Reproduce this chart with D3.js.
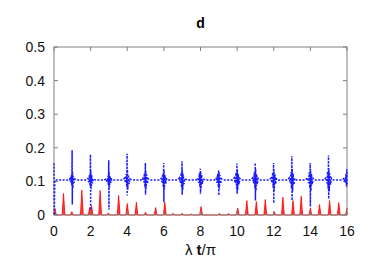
<!DOCTYPE html>
<html>
<head>
<meta charset="utf-8">
<script src="https://cdn.jsdelivr.net/npm/d3@7"></script>
<style>
  body { margin: 0; background: #fff; }
  svg { display: block; font-family: "Liberation Sans", Arial, sans-serif; }
</style>
</head>
<body>
<div id="chart"></div>
<script>
// blue series: start of the curve, then one oscillation burst per integer t
const blueStartT = [0, 0.015, 0.045];
const blueStartV = [0.154, 0.0, 0.104];
const burstCenters = [1, 2, 3, 4, 5, 6, 7, 8, 9, 10, 11, 12, 13, 14, 15, 16];
const burstOffsets = [-0.25, -0.15, -0.1, -0.06, -0.03, -0.01, 0, 0.01, 0.03, 0.06, 0.1, 0.15, 0.25];
const burstValues = [
  [0.104, 0.108, 0.098, 0.118, 0.088, 0.193, 0.031, 0.130, 0.080, 0.116, 0.096, 0.107, 0.104],
  [0.104, 0.109, 0.097, 0.120, 0.086, 0.180, 0.015, 0.132, 0.078, 0.118, 0.094, 0.108, 0.104],
  [0.104, 0.108, 0.099, 0.117, 0.089, 0.163, 0.016, 0.128, 0.082, 0.115, 0.096, 0.107, 0.104],
  [0.104, 0.110, 0.096, 0.122, 0.084, 0.182, 0.058, 0.135, 0.075, 0.120, 0.092, 0.108, 0.104],
  [0.104, 0.110, 0.097, 0.124, 0.082, 0.155, 0.060, 0.132, 0.078, 0.120, 0.093, 0.108, 0.104],
  [0.104, 0.109, 0.097, 0.122, 0.084, 0.155, 0.038, 0.134, 0.076, 0.119, 0.093, 0.108, 0.104],
  [0.104, 0.111, 0.096, 0.125, 0.082, 0.160, 0.060, 0.135, 0.075, 0.121, 0.092, 0.109, 0.104],
  [0.104, 0.110, 0.096, 0.124, 0.083, 0.138, 0.063, 0.130, 0.078, 0.120, 0.093, 0.108, 0.104],
  [0.104, 0.110, 0.096, 0.123, 0.083, 0.133, 0.058, 0.128, 0.078, 0.119, 0.093, 0.108, 0.104],
  [0.104, 0.111, 0.095, 0.126, 0.080, 0.153, 0.063, 0.136, 0.074, 0.122, 0.091, 0.109, 0.104],
  [0.104, 0.111, 0.095, 0.127, 0.080, 0.155, 0.043, 0.137, 0.072, 0.122, 0.091, 0.109, 0.104],
  [0.104, 0.110, 0.096, 0.126, 0.081, 0.155, 0.035, 0.136, 0.073, 0.121, 0.092, 0.108, 0.104],
  [0.104, 0.111, 0.095, 0.128, 0.079, 0.175, 0.043, 0.138, 0.070, 0.123, 0.090, 0.109, 0.104],
  [0.104, 0.111, 0.095, 0.127, 0.080, 0.155, 0.025, 0.137, 0.071, 0.122, 0.091, 0.109, 0.104],
  [0.104, 0.112, 0.094, 0.129, 0.078, 0.178, 0.048, 0.139, 0.070, 0.124, 0.090, 0.110, 0.104],
  [0.104, 0.110, 0.096, 0.122, 0.084, 0.136, 0.088]
];

// red series: narrow peaks (position, height)
const redPeakT = [0.05, 0.52, 0.97, 1.52, 1.95, 2.05, 2.52, 2.97, 3.53, 4.0, 4.5, 5.0, 5.55, 6.05, 6.5, 7.0, 7.5,
  8.03, 9.03, 9.53, 10.03, 10.53, 11.05, 11.54, 12.03, 12.5, 13.05, 13.5, 14.0, 14.5, 15.05, 15.55, 16.0];
const redPeakH = [0.02, 0.064, 0.01, 0.074, 0.022, 0.028, 0.073, 0.006, 0.058, 0.034, 0.038, 0.008, 0.022, 0.038, 0.005, 0.005, 0.003,
  0.025, 0.005, 0.005, 0.021, 0.043, 0.04, 0.046, 0.01, 0.053, 0.043, 0.056, 0.021, 0.031, 0.043, 0.037, 0.02];

const xTicks = [0, 2, 4, 6, 8, 10, 12, 14, 16];
const yTicks = [0, 0.1, 0.2, 0.3, 0.4, 0.5];

const W = 374, H = 262;
const margin = { top: 47, right: 27, bottom: 47, left: 54 };

const svg = d3.select('#chart').append('svg').attr('width', W).attr('height', H);

const x = d3.scaleLinear().domain([0, 16]).range([margin.left, W - margin.right]);
const y = d3.scaleLinear().domain([0, 0.5]).range([H - margin.bottom, margin.top]);

const frameColor = '#808080';

// red peaks: filled area, outline only on the top edge
const w = 0.075;
const redPts = [];
redPeakT.forEach((t, i) => {
  redPts.push([Math.max(0, t - w), 0], [t, redPeakH[i]], [Math.min(16, t + w), 0]);
});
svg.append('path')
  .datum(redPts)
  .attr('d', d3.area().x(d => x(d[0])).y0(y(0)).y1(d => y(d[1])))
  .attr('fill', '#ff3a3a');
svg.append('path')
  .datum(redPts)
  .attr('d', d3.line().x(d => x(d[0])).y(d => y(d[1])))
  .attr('fill', 'none').attr('stroke', '#ff0000').attr('stroke-width', 0.8);

// frame
svg.append('rect')
  .attr('x', x(0)).attr('y', y(0.5))
  .attr('width', x(16) - x(0)).attr('height', y(0) - y(0.5))
  .attr('fill', 'none').attr('stroke', frameColor).attr('stroke-width', 1);

// inward ticks on all four sides
const tl = 4;
xTicks.forEach(t => {
  svg.append('line').attr('x1', x(t)).attr('x2', x(t)).attr('y1', y(0)).attr('y2', y(0) - tl)
    .attr('stroke', frameColor);
  svg.append('line').attr('x1', x(t)).attr('x2', x(t)).attr('y1', y(0.5)).attr('y2', y(0.5) + tl)
    .attr('stroke', frameColor);
  svg.append('text').attr('x', x(t)).attr('y', y(0) + 21)
    .attr('text-anchor', 'middle').attr('font-size', 14).attr('fill', '#111').text(t);
});
yTicks.forEach(v => {
  svg.append('line').attr('x1', x(0)).attr('x2', x(0) + tl).attr('y1', y(v)).attr('y2', y(v))
    .attr('stroke', frameColor);
  svg.append('line').attr('x1', x(16)).attr('x2', x(16) - tl).attr('y1', y(v)).attr('y2', y(v))
    .attr('stroke', frameColor);
  svg.append('text').attr('x', x(0) - 9).attr('y', y(v) + 5)
    .attr('text-anchor', 'end').attr('font-size', 14).attr('fill', '#111').text(v);
});

// blue dotted curve
const bluePts = blueStartT.map((t, i) => [t, blueStartV[i]]);
burstCenters.forEach((c, i) => {
  burstValues[i].forEach((v, j) => {
    const t = c + burstOffsets[j];
    if (t <= 16) bluePts.push([t, v]);
  });
});
svg.append('path')
  .datum(bluePts)
  .attr('d', d3.line().x(d => x(d[0])).y(d => y(d[1])))
  .attr('fill', 'none').attr('stroke', '#1a1aff').attr('stroke-width', 1.5)
  .attr('stroke-dasharray', '2,1.5');

// title and axis label
svg.append('text').attr('x', (x(0) + x(16)) / 2).attr('y', 28)
  .attr('text-anchor', 'middle').attr('font-size', 14).attr('font-weight', 'bold').text('d');

const xl = svg.append('text').attr('x', (x(0) + x(16)) / 2).attr('y', 255)
  .attr('text-anchor', 'middle').attr('font-size', 15).attr('fill', '#111');
xl.append('tspan').text('λ ');
xl.append('tspan').attr('font-weight', 'bold').text('t');
xl.append('tspan').text('/π');
</script>
</body>
</html>
